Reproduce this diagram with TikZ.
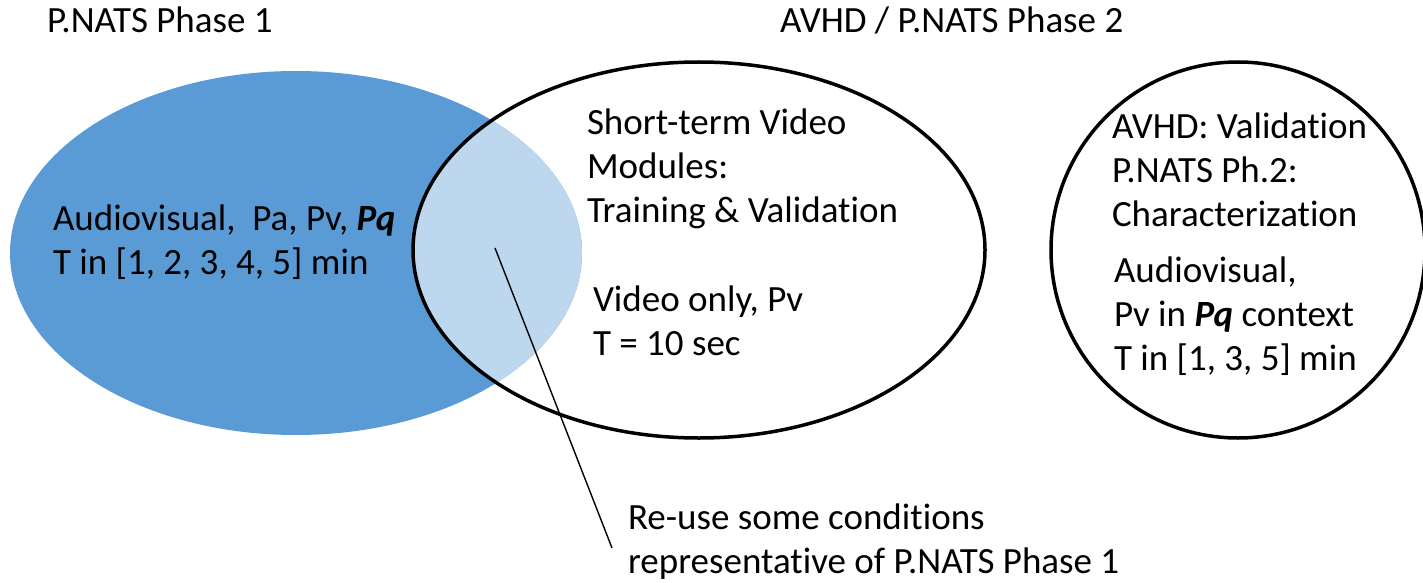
\documentclass[tikz,border=0pt]{standalone}
\usepackage{fontspec}
\setmainfont{Carlito}[Ligatures={NoCommon}]
\definecolor{phaseone}{HTML}{5B9BD5}
\definecolor{overlap}{HTML}{BDD7EE}
\newcommand{\pqsym}{\textbf{\textit{Pq}}}
\begin{document}
\begin{tikzpicture}[x=1pt, y=-1pt,
  every node/.style={inner sep=0pt, outer sep=0pt},
  label/.style={anchor=base west, align=left, font=\fontsize{37}{44}\selectfont},
  ring/.style={draw=black, line width=3.5pt},
  leader/.style={draw=black, line width=1.4pt}]
\useasboundingbox (0,0) rectangle (1423,583);
% Phase 1 set and its overlap with the short-term modules
\fill[phaseone] (296,253) ellipse [x radius=286, y radius=182];
\begin{scope}
  \clip (699,250) ellipse [x radius=286, y radius=188];
  \fill[overlap] (296,253) ellipse [x radius=286, y radius=182];
\end{scope}
\draw[ring] (699,250) ellipse [x radius=286, y radius=188];
\draw[ring] (1238,250) ellipse [x radius=187, y radius=188];
% headings
\node[label] (h1) at (47,33) {P.NATS Phase 1};
\node[label] (h2) at (780,33) {AVHD / P.NATS Phase 2};
% set contents (anchored at the baseline of the last line)
\node[label] (p1) at (53,274) {Audiovisual,\ \ Pa, Pv, \pqsym\\T in [1, 2, 3, 4, 5] min};
\node[label] (m1) at (587,222) {Short-term Video\\Modules:\\Training \& Validation};
\node[label] (m2) at (593,355) {Video only, Pv\\T = 10 sec};
\node[label] (r1) at (1112,226) {AVHD: Validation\\P.NATS Ph.2:\\Characterization};
\node[label] (r2) at (1114,370) {Audiovisual,\\Pv in \pqsym\ context\\T in [1, 3, 5] min};
\node[label] (note) at (628,573) {Re-use some conditions\\representative of P.NATS Phase 1};
% leader from the overlap to the note
\coordinate (tip) at (495,248);
\coordinate (foot) at (612,548);
\draw[leader] (tip) -- (foot);
\end{tikzpicture}
\end{document}
